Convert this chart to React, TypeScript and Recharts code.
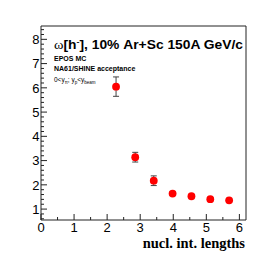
import React from 'react';
import { ScatterChart, Scatter, XAxis, YAxis, ErrorBar, Customized } from 'recharts';

const xValues = [2.27, 2.85, 3.41, 3.98, 4.55, 5.12, 5.69];
const yValues = [6.05, 3.14, 2.17, 1.64, 1.53, 1.41, 1.36];
const yErrors = [0.4, 0.2, 0.2, 0.08, 0.07, 0.07, 0.06];
const xTicks = [0, 0.5, 1, 1.5, 2, 2.5, 3, 3.5, 4, 4.5, 5, 5.5, 6];
const yTicks: number[] = [];
for (let i = 3; i <= 42; i++) yTicks.push(Math.round(i * 2) / 10);

const data = xValues.map((x, i) => ({ x, y: yValues[i], err: yErrors[i] }));

const FONT = '"Liberation Sans", Arial, Helvetica, sans-serif';
const AX = '#222';
const isInt = (v: number) => Math.abs(v - Math.round(v)) < 1e-6;

const XTick = (p: any) => {
  const v = p.payload.value;
  const major = isInt(v);
  return (
    <g>
      <line x1={p.x} x2={p.x} y1={p.y} y2={p.y - (major ? 6 : 3)} stroke={AX} strokeWidth={1} />
      {major && (
        <text x={p.x} y={p.y + 12} textAnchor="middle" fontSize={13} fontFamily={FONT} fill="#000">
          {v}
        </text>
      )}
    </g>
  );
};
const YTick = (p: any) => {
  const v = p.payload.value;
  const major = isInt(v);
  return (
    <g>
      <line x1={p.x} x2={p.x + (major ? 6 : 3)} y1={p.y} y2={p.y} stroke={AX} strokeWidth={1} />
      {major && (
        <text x={p.x - 1.5} y={p.y + 4.7} textAnchor="end" fontSize={13} fontFamily={FONT} fill="#000">
          {v}
        </text>
      )}
    </g>
  );
};

const Dot = (p: any) => <circle cx={p.cx} cy={p.cy} r={3.9} fill="#ff0000" />;

const Labels = () => (
  <g fontFamily={FONT} fill="#000">
    <text x={54} y={48.5} fontSize={12.5} fontWeight="bold" textLength={189} lengthAdjust="spacingAndGlyphs">
      <tspan fontWeight="normal" fontFamily='"Liberation Serif", serif' fontSize={13}>ω</tspan>
      <tspan>[h</tspan>
      <tspan dy={-5} fontSize={8}>-</tspan>
      <tspan dy={5}>], 10% Ar+Sc 150A GeV/c</tspan>
    </text>
    <text x={54} y={61} fontSize={7} fontWeight="bold">EPOS MC</text>
    <text x={54} y={70.5} fontSize={7} fontWeight="bold">NA61/SHINE acceptance</text>
    <text x={54} y={82} fontSize={6.5}>
      <tspan>0&lt;y</tspan>
      <tspan dy={2} fontSize={4.5}>π</tspan>
      <tspan dy={-2}>; y</tspan>
      <tspan dy={2} fontSize={4.5}>p</tspan>
      <tspan dy={-2}>&lt;y</tspan>
      <tspan dy={2} fontSize={4.5}>beam</tspan>
    </text>
    <text x={245} y={247.5} fontSize={14.5} fontWeight="bold" textAnchor="end" fontFamily='"Liberation Serif", "Times New Roman", serif'>
      nucl. int. lengths
    </text>
  </g>
);

export default function App() {
  return (
    <div style={{ position: 'absolute', left: 0, top: 0, width: 273, height: 260, background: '#fff' }}>
      <ScatterChart width={273} height={260} margin={{ top: 25, right: 26, bottom: 39, left: 40 }}>
        <XAxis xAxisId="x" type="number" dataKey="x" domain={[0, 6.2]} ticks={xTicks} allowDataOverflow
          height={1} tickSize={0} tickMargin={0} tickLine={false} tick={XTick} axisLine={{ stroke: AX }} interval={0} />
        <XAxis xAxisId="top" orientation="top" type="number" domain={[0, 6.2]} height={1} tick={false} tickLine={false} axisLine={{ stroke: AX }} />
        <YAxis yAxisId="y" type="number" dataKey="y" domain={[0.55, 8.55]} ticks={yTicks} allowDataOverflow
          width={1} tickSize={0} tickMargin={0} tickLine={false} tick={YTick} axisLine={{ stroke: AX }} interval={0} />
        <YAxis yAxisId="right" orientation="right" type="number" domain={[0.55, 8.55]} width={1} tick={false} tickLine={false} axisLine={{ stroke: AX }} />
        <Scatter xAxisId="x" yAxisId="y" data={data} dataKey="y" shape={Dot} isAnimationActive={false}>
          <ErrorBar dataKey="err" direction="y" width={3} stroke="#444" strokeWidth={1} />
        </Scatter>
        <Customized component={Labels} />
      </ScatterChart>
    </div>
  );
}
